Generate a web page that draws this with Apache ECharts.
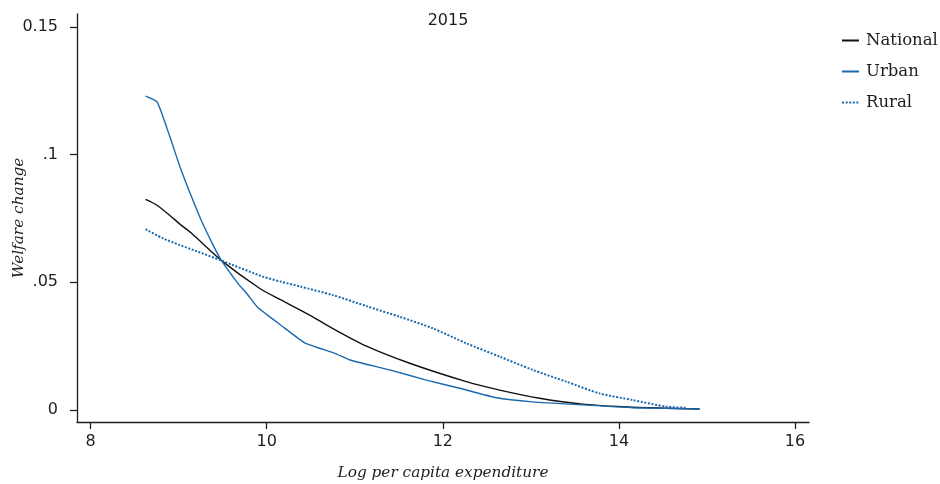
<!DOCTYPE html>
<html>
<head>
<meta charset="utf-8">
<script src="https://cdn.jsdelivr.net/npm/echarts@6/dist/echarts.min.js"></script>
<style>
  html, body { margin: 0; padding: 0; background: #fff; }
  #chart { width: 940px; height: 484px; }
</style>
</head>
<body>
<div id="chart"></div>
<script>
// Welfare change by log per capita expenditure, 2015
const seriesNames = ['National', 'Urban', 'Rural'];

const nationalX = [8.624, 8.749, 8.900, 9.014, 9.146, 9.487, 9.922, 10.168, 10.376, 10.546, 10.773, 11.133, 11.624, 12.268, 12.646, 13.100, 13.588, 14.156, 14.916];
const nationalY = [0.0825, 0.0803, 0.0762, 0.0728, 0.0692, 0.0585, 0.0476, 0.0430, 0.0392, 0.0360, 0.0315, 0.0250, 0.0183, 0.0111, 0.0078, 0.0046, 0.0023, 0.0011, 0.0004];

const urbanX = [8.624, 8.756, 8.900, 9.014, 9.146, 9.260, 9.392, 9.487, 9.675, 9.771, 9.902, 10.073, 10.168, 10.432, 10.773, 10.943, 11.397, 11.814, 12.192, 12.608, 13.021, 13.588, 14.156, 14.916];
const urbanY = [0.1229, 0.1206, 0.1070, 0.0953, 0.0835, 0.0740, 0.0645, 0.0585, 0.0495, 0.0457, 0.0400, 0.0355, 0.0330, 0.0263, 0.0222, 0.0196, 0.0157, 0.0117, 0.0085, 0.0048, 0.0032, 0.0020, 0.0009, 0.0004];

const ruralX = [8.624, 8.824, 9.014, 9.203, 9.487, 9.959, 10.168, 10.376, 10.750, 11.133, 11.511, 11.885, 12.268, 12.646, 13.021, 13.403, 13.781, 14.156, 14.538, 14.765];
const ruralY = [0.0708, 0.0672, 0.0646, 0.0622, 0.0585, 0.0522, 0.0502, 0.0484, 0.0450, 0.0407, 0.0365, 0.0320, 0.0261, 0.0209, 0.0157, 0.0111, 0.0065, 0.0039, 0.0013, 0.0009];

const xTicks = [8, 10, 12, 14, 16];
const yTicks = [0, 0.05, 0.1, 0.15];
const yTickLabels = ['0', '.05', '.1', '0.15'];

const pair = (xs, ys) => xs.map((x, i) => [x, ys[i]]);

const blue = '#1a69ae';
const ink = '#1e1e1e';
const sans = 'DejaVu Sans';
const serif = 'DejaVu Serif';

const chart = echarts.init(document.getElementById('chart'));
chart.setOption({
  animation: false,
  backgroundColor: '#fff',
  title: {
    text: '2015',
    left: 443,
    textAlign: 'center',
    top: 8,
    textStyle: { fontFamily: sans, fontSize: 16, fontWeight: 'normal', color: ink }
  },
  legend: {
    orient: 'vertical',
    left: 836,
    top: 27,
    itemWidth: 17,
    itemHeight: 14,
    itemGap: 14,
    data: seriesNames,
    itemStyle: { opacity: 0, borderWidth: 0 },
    textStyle: { fontFamily: serif, fontSize: 16.5, color: ink, padding: [0, 0, 0, 2] }
  },
  grid: { left: 77, right: 131, top: 14, bottom: 62, outerBoundsMode: 'none', containLabel: false },
  xAxis: {
    type: 'value',
    min: 7.845,
    max: 16.159,
    name: 'Log per capita expenditure',
    nameLocation: 'middle',
    nameGap: 44,
    nameMoveOverlap: false,
    nameTextStyle: { fontFamily: serif, fontStyle: 'italic', fontSize: 15.3, color: ink },
    axisLine: { show: true, onZero: false, lineStyle: { color: ink, width: 1.3 } },
    axisTick: { show: true, length: 7, customValues: xTicks, lineStyle: { color: ink, width: 1.3 } },
    axisLabel: { customValues: xTicks, margin: 12, fontFamily: sans, fontSize: 16, color: ink },
    splitLine: { show: false }
  },
  yAxis: {
    type: 'value',
    min: -0.0047,
    max: 0.1551,
    name: 'Welfare change',
    nameLocation: 'middle',
    nameGap: 50,
    nameMoveOverlap: false,
    nameTextStyle: { fontFamily: serif, fontStyle: 'italic', fontSize: 15.3, color: ink },
    axisLine: { show: true, onZero: false, lineStyle: { color: ink, width: 1.3 } },
    axisTick: { show: true, length: 7, customValues: yTicks, lineStyle: { color: ink, width: 1.3 } },
    axisLabel: {
      customValues: yTicks,
      margin: 19,
      fontFamily: sans,
      fontSize: 16,
      color: ink,
      formatter: v => {
        const i = yTicks.findIndex(t => Math.abs(t - v) < 1e-9);
        return i >= 0 ? yTickLabels[i] : '';
      }
    },
    splitLine: { show: false }
  },
  series: [
    {
      name: 'National', type: 'line', symbol: 'none', smooth: 0.25,
      data: pair(nationalX, nationalY),
      lineStyle: { color: '#111', width: 1.4 }, itemStyle: { color: '#111' }
    },
    {
      name: 'Urban', type: 'line', symbol: 'none', smooth: 0.15,
      data: pair(urbanX, urbanY),
      lineStyle: { color: blue, width: 1.4 }, itemStyle: { color: blue }
    },
    {
      name: 'Rural', type: 'line', symbol: 'none', smooth: 0.25,
      data: pair(ruralX, ruralY),
      lineStyle: { color: blue, width: 2, type: [2, 1.6] }, itemStyle: { color: blue }
    }
  ]
});
</script>
</body>
</html>
